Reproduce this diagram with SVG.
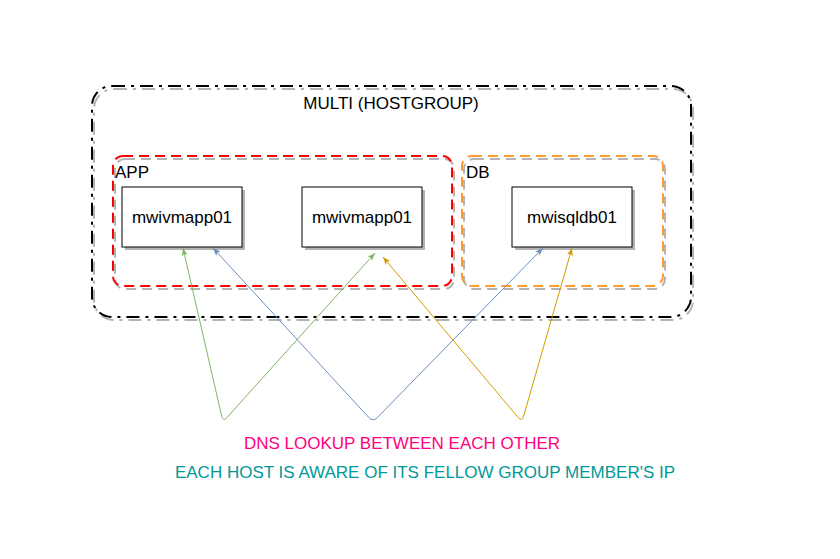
<svg xmlns="http://www.w3.org/2000/svg" width="840" height="559" viewBox="0 0 840 559">
<style>
.lbl{font-family:"Liberation Sans",Arial,sans-serif;font-size:17px;fill:#000}
.shadow{fill:none;stroke:#b3b3b3}
.node rect.box{fill:#fff;stroke:#000;stroke-width:1}
.edge{fill:none;stroke-width:1}
</style>
<defs>
<marker id="mg" viewBox="0 0 8 6" refX="8" refY="3" markerWidth="8" markerHeight="6" orient="auto-start-reverse" markerUnits="userSpaceOnUse"><path d="M0,0 L8,3 L0,6 L2,3 Z" fill="#82b366"/></marker>
<marker id="mb" viewBox="0 0 8 6" refX="8" refY="3" markerWidth="8" markerHeight="6" orient="auto-start-reverse" markerUnits="userSpaceOnUse"><path d="M0,0 L8,3 L0,6 L2,3 Z" fill="#6c8ebf"/></marker>
<marker id="mo" viewBox="0 0 8 6" refX="8" refY="3" markerWidth="8" markerHeight="6" orient="auto-start-reverse" markerUnits="userSpaceOnUse"><path d="M0,0 L8,3 L0,6 L2,3 Z" fill="#d79b00"/></marker>
</defs>
<rect width="840" height="559" fill="#fff"/>

<g id="multi">
<rect class="shadow" x="94" y="89" width="599" height="231" rx="20" stroke-width="2" stroke-dasharray="13 6 3 6"/>
<rect x="92" y="86" width="599" height="231" rx="20" fill="none" stroke="#000" stroke-width="2" stroke-dasharray="13 6 3 6"/>
<text class="lbl" x="391" y="109" text-anchor="middle">MULTI (HOSTGROUP)</text>
</g>

<g id="app">
<rect class="shadow" x="115" y="159" width="339" height="130" rx="10" stroke-width="2" stroke-dasharray="10 6"/>
<rect x="113" y="156" width="339" height="130" rx="10" fill="none" stroke="#ff0000" stroke-width="2" stroke-dasharray="10 6"/>
<text class="lbl" x="115" y="178">APP</text>
</g>

<g id="db">
<rect class="shadow" x="464" y="159" width="201" height="130" rx="10" stroke-width="2" stroke-dasharray="10 6"/>
<rect x="462" y="156" width="201" height="130" rx="10" fill="none" stroke="#ff9933" stroke-width="2" stroke-dasharray="10 6"/>
<text class="lbl" x="466" y="178">DB</text>
</g>

<g id="node-app1" class="node">
<rect x="125" y="190" width="120" height="60" fill="#b3b3b3"/>
<rect class="box" x="122" y="187" width="120" height="60"/>
<text class="lbl" x="182" y="223" text-anchor="middle">mwivmapp01</text>
</g>

<g id="node-app2" class="node">
<rect x="305" y="190" width="120" height="60" fill="#b3b3b3"/>
<rect class="box" x="302" y="187" width="120" height="60"/>
<text class="lbl" x="362" y="223" text-anchor="middle">mwivmapp01</text>
</g>

<g id="node-db1" class="node">
<rect x="515" y="190" width="120" height="60" fill="#b3b3b3"/>
<rect class="box" x="512" y="187" width="120" height="60"/>
<text class="lbl" x="572" y="223" text-anchor="middle">mwisqldb01</text>
</g>

<g id="connectors">
<path class="edge" stroke="#82b366" marker-start="url(#mg)" marker-end="url(#mg)" d="M183,248 L221.7,416.2 Q223,422 227,417.5 L375,253"/>
<path class="edge" stroke="#6c8ebf" marker-start="url(#mb)" marker-end="url(#mb)" d="M213,248 L368.9,417.6 Q373,422 377.2,417.7 L543,248"/>
<path class="edge" stroke="#d79b00" marker-start="url(#mo)" marker-end="url(#mo)" d="M383,257 L518.1,417.4 Q522,422 523.6,416.2 L572,248"/>
</g>

<g id="notes">
<text x="402" y="449" text-anchor="middle" style="font-family:'Liberation Sans',Arial,sans-serif;font-size:17px;fill:#ff0080">DNS LOOKUP BETWEEN EACH OTHER</text>
<text x="425" y="478" text-anchor="middle" style="font-family:'Liberation Sans',Arial,sans-serif;font-size:17px;fill:#009999">EACH HOST IS AWARE OF ITS FELLOW GROUP MEMBER'S IP</text>
</g>
</svg>
